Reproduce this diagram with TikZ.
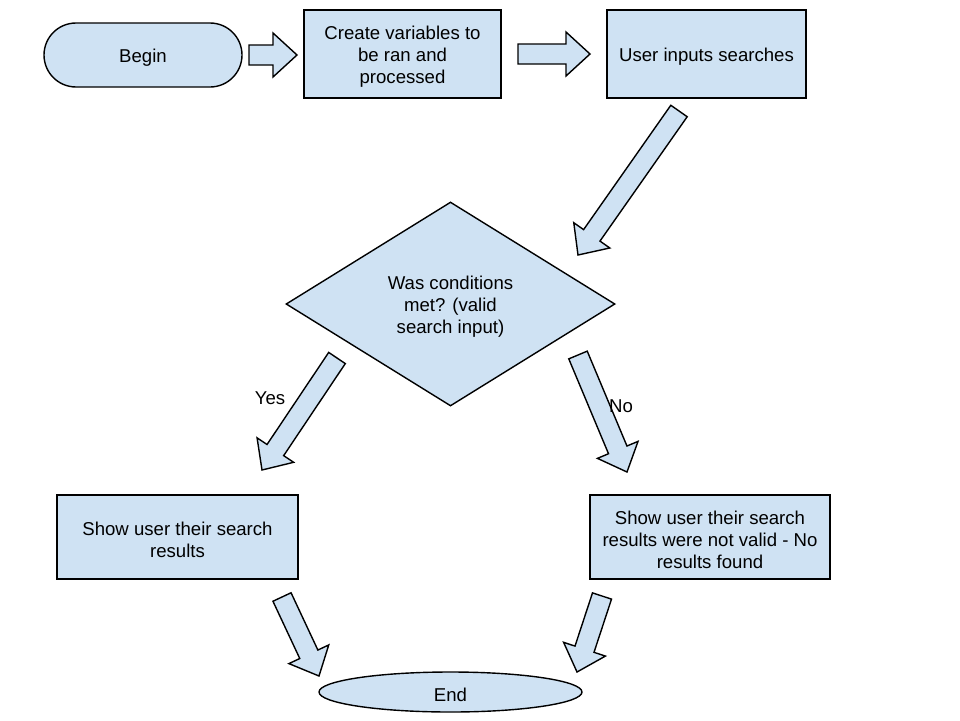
\documentclass[tikz,border=0pt]{standalone}
\usepackage{fontspec}
\setmainfont{Liberation Sans}
\usetikzlibrary{shapes.geometric,calc}
\definecolor{boxfill}{HTML}{CFE2F3}
\tikzset{
  base/.style={draw=black, line width=1.4pt, fill=boxfill, inner sep=0pt},
  txt/.style={align=center, font=\fontsize{18.6}{22}\selectfont, inner sep=0pt, yshift=-2.5pt},
  procbox/.style={base, rectangle, minimum width=#1, minimum height=88pt},
  terminal/.style={base, rectangle, rounded corners=32pt, minimum width=198pt, minimum height=64pt},
  endcap/.style={base, ellipse, minimum width=263pt, minimum height=40pt},
  decision/.style={base, diamond, minimum width=329pt, minimum height=204pt, aspect=1.61},
  blockarrow/.style={draw=black, line width=1.4pt, fill=boxfill, line join=miter},
  lbl/.style={font=\fontsize{18.6}{22}\selectfont, inner sep=0pt}
}
% Block arrow from #1 to #2: shaft 20pt wide, head 44pt wide and 24pt long
\newcommand\blockarr[2]{%
  \path (#1) coordinate (ba-a) (#2) coordinate (ba-b)
        ($(ba-b)!24pt!(ba-a)$) coordinate (ba-h);
  \draw[blockarrow] ($(ba-a)!10pt!90:(ba-b)$) -- ($(ba-h)!10pt!90:(ba-b)$)
    -- ($(ba-h)!22pt!90:(ba-b)$) -- (ba-b) -- ($(ba-h)!22pt!-90:(ba-b)$)
    -- ($(ba-h)!10pt!-90:(ba-b)$) -- ($(ba-a)!10pt!-90:(ba-b)$) -- cycle;}
\begin{document}
\begin{tikzpicture}[x=1pt, y=-1pt]
\useasboundingbox (0,0) rectangle (960,720);

% process steps (text set as a centred label, slightly below the shape centre)
\node[terminal, label={[txt]center:Begin}] (begin) at (143,55) {};
\node[procbox=197pt, label={[txt]center:{Create variables to\\be ran and\\processed}}] (vars) at (402.5,54) {};
\node[procbox=199pt, label={[txt]center:User inputs searches}] (input) at (706.5,54) {};
\node[decision, label={[txt]center:{Was conditions\\met? (valid\\search input)}}] (check) at (450.5,304) {};
\node[procbox=241pt, minimum height=84pt, label={[txt]center:{Show user their search\\results}}] (show) at (177.5,537) {};
\node[procbox=240pt, minimum height=84pt, label={[txt]center:{Show user their search\\results were not valid - No\\results found}}] (invalid) at (710,537) {};
\node[endcap, label={[txt]center:End}] (end) at (450.5,692) {};

% arrow end points
\coordinate (a1s) at (249,55);  \coordinate (a1e) at (297,55);
\coordinate (a2s) at (518,54);  \coordinate (a2e) at (590,54);
\coordinate (a3s) at (679,111); \coordinate (a3e) at (578,255);
\coordinate (a4s) at (337,358); \coordinate (a4e) at (262,470);
\coordinate (a5s) at (578,355); \coordinate (a5e) at (627,472);
\coordinate (a6s) at (282,597); \coordinate (a6e) at (319,676);
\coordinate (a7s) at (602,596); \coordinate (a7e) at (577,672);

\blockarr{a1s}{a1e}
\blockarr{a2s}{a2e}
\blockarr{a3s}{a3e}
\blockarr{a4s}{a4e}
\blockarr{a5s}{a5e}
\blockarr{a6s}{a6e}
\blockarr{a7s}{a7e}

\node[lbl] (yes) at (270,398) {Yes};
\node[lbl] (no) at (621,406) {No};
\end{tikzpicture}
\end{document}
